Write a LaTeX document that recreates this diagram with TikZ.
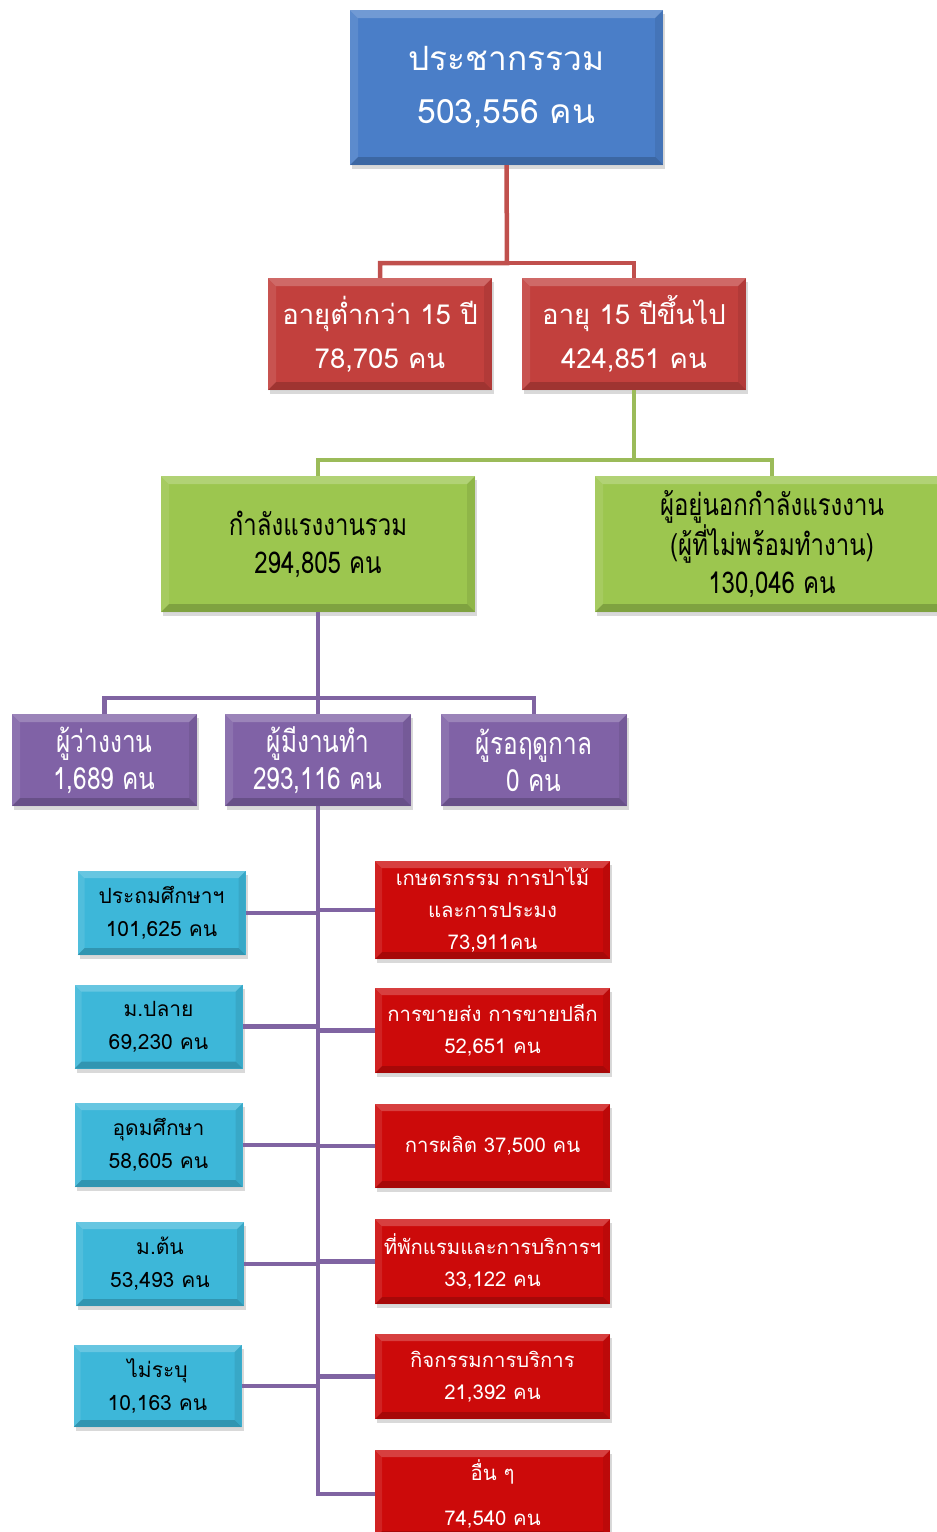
\documentclass[tikz,border=0pt]{standalone}
\usepackage{fontspec}
\newfontfamily\thai[Script=Thai]{Loma}
\newfontfamily\thainarrow[Script=Thai,FakeStretch=0.8]{Loma}
\usetikzlibrary{shadows}
\definecolor{cblue}{HTML}{4A7EC8}
\definecolor{cred}{HTML}{C2403D}
\definecolor{cgreen}{HTML}{9CC64F}
\definecolor{cpurple}{HTML}{8062A6}
\definecolor{ccyan}{HTML}{3DB7D9}
\definecolor{cbright}{HTML}{CC0A0A}
\definecolor{lred}{HTML}{C0504D}
\definecolor{lgreen}{HTML}{9BBB59}
\definecolor{lpurple}{HTML}{8064A2}
\tikzset{
  bevel/.style={path picture={
    \fill[white,opacity=0.22] (path picture bounding box.north west) -- (path picture bounding box.north east) -- ([xshift=-#1,yshift=-#1]path picture bounding box.north east) -- ([xshift=#1,yshift=-#1]path picture bounding box.north west) -- cycle;
    \fill[white,opacity=0.10] (path picture bounding box.north west) -- (path picture bounding box.south west) -- ([xshift=#1,yshift=#1]path picture bounding box.south west) -- ([xshift=#1,yshift=-#1]path picture bounding box.north west) -- cycle;
    \fill[black,opacity=0.18] (path picture bounding box.south west) -- (path picture bounding box.south east) -- ([xshift=-#1,yshift=#1]path picture bounding box.south east) -- ([xshift=#1,yshift=#1]path picture bounding box.south west) -- cycle;
    \fill[black,opacity=0.08] (path picture bounding box.north east) -- (path picture bounding box.south east) -- ([xshift=-#1,yshift=#1]path picture bounding box.south east) -- ([xshift=-#1,yshift=-#1]path picture bounding box.north east) -- cycle;
  }},
  basebox/.style={inner sep=0pt, align=center, bevel=8pt,
    drop shadow={shadow xshift=2pt, shadow yshift=-4pt, opacity=0.3}},
  bluebox/.style={basebox, fill=cblue, text=white, font={\thai\fontsize{33.5}{53}\selectfont}},
  redbox/.style={basebox, fill=cred, text=white, font={\thai\fontsize{27.5}{44}\selectfont}},
  greenbox/.style={basebox, fill=cgreen, text=black, font={\thainarrow\fontsize{30}{38}\selectfont}},
  purplebox/.style={basebox, fill=cpurple, text=white, font={\thainarrow\fontsize{30.5}{37}\selectfont}},
  cyanbox/.style={basebox, fill=ccyan, text=black, bevel=7pt, font={\thai\fontsize{21}{33}\selectfont}, minimum width=168pt, minimum height=84pt},
  brightbox/.style={basebox, fill=cbright, text=white, bevel=7pt, font={\thai\fontsize{20.3}{32}\selectfont}, minimum width=235pt, minimum height=85pt},
  redline/.style={draw=lred, line width=4.5pt},
  greenline/.style={draw=lgreen, line width=4.5pt},
  purpleline/.style={draw=lpurple, line width=4.5pt},
}
\begin{document}
\begin{tikzpicture}[x=1pt,y=-1pt]
\useasboundingbox (0,0) rectangle (937,1532);
% level 1
\node[bluebox, minimum width=313pt, minimum height=155pt] (pop) at (506.5,87.5) {ประชากรรวม\\503,556 คน};
% level 2
\node[redbox, minimum width=224pt, minimum height=112pt] (young) at (380,334) {อายุต่ำกว่า 15 ปี\\78,705 คน};
\node[redbox, minimum width=224pt, minimum height=112pt] (old) at (634,334) {อายุ 15 ปีขึ้นไป\\424,851 คน};
% level 3
\node[greenbox, minimum width=314pt, minimum height=136pt] (lf) at (318,544) {กำลังแรงงานรวม\\294,805 คน};
\node[greenbox, minimum width=354pt, minimum height=136pt] (nlf) at (772,544) {ผู้อยู่นอกกำลังแรงงาน\\(ผู้ที่ไม่พร้อมทำงาน)\\130,046 คน};
% level 4
\node[purplebox, minimum width=185pt, minimum height=92pt] (unemp) at (104.5,760) {ผู้ว่างงาน\\1,689 คน};
\node[purplebox, minimum width=186pt, minimum height=92pt] (emp) at (318,760) {ผู้มีงานทำ\\293,116 คน};
\node[purplebox, minimum width=186pt, minimum height=92pt] (wait) at (534,760) {ผู้รอฤดูกาล\\0 คน};
% education
\node[cyanbox] (e1) at (161.5,913) {ประถมศึกษาฯ\\101,625 คน};
\node[cyanbox] (e2) at (158.5,1026.5) {ม.ปลาย\\69,230 คน};
\node[cyanbox] (e3) at (158.5,1145) {อุดมศึกษา\\58,605 คน};
\node[cyanbox] (e4) at (160,1264) {ม.ต้น\\53,493 คน};
\node[cyanbox, minimum height=82pt] (e5) at (157.5,1386) {ไม่ระบุ\\10,163 คน};
% industries
\node[brightbox, minimum height=98pt] (i1) at (492.5,910) {เกษตรกรรม การป่าไม้\\และการประมง\\73,911คน};
\node[brightbox] (i2) at (492.5,1030.5) {การขายส่ง การขายปลีก\\52,651 คน};
\node[brightbox, minimum height=84pt] (i3) at (492.5,1146) {การผลิต 37,500 คน};
\node[brightbox] (i4) at (492.5,1261.5) {ที่พักแรมและการบริการฯ\\33,122 คน};
\node[brightbox] (i5) at (492.5,1376.5) {กิจกรรมการบริการ\\21,392 คน};
\node[brightbox, minimum height=88pt, font={\thai\fontsize{20.3}{45}\selectfont}] (i6) at (492.5,1494) {อื่น ๆ\\74,540 คน};
% connectors
\coordinate (j1) at (507,263);
\draw[redline] (pop.south) -- (j1) -| (young.north);
\draw[redline] (j1) -| (old.north);
\coordinate (j2) at (634,460);
\draw[greenline] (old.south) -- (j2) -| (lf.north);
\draw[greenline] (j2) -| (nlf.north);
\coordinate (j3) at (318,698);
\draw[purpleline] (lf.south) -- (j3) -| (unemp.north);
\draw[purpleline] (j3) -- (emp.north);
\draw[purpleline] (j3) -| (wait.north);
\draw[purpleline, line join=miter] (emp.south) |- (i6.west);
\foreach \n in {e1,e2,e3,e4,e5} {\draw[purpleline] (\n.east) -- (\n.east -| emp.south);}
\foreach \n in {i1,i2,i3,i4,i5} {\draw[purpleline] (\n.west) -- (\n.west -| emp.south);}
\end{tikzpicture}
\end{document}
